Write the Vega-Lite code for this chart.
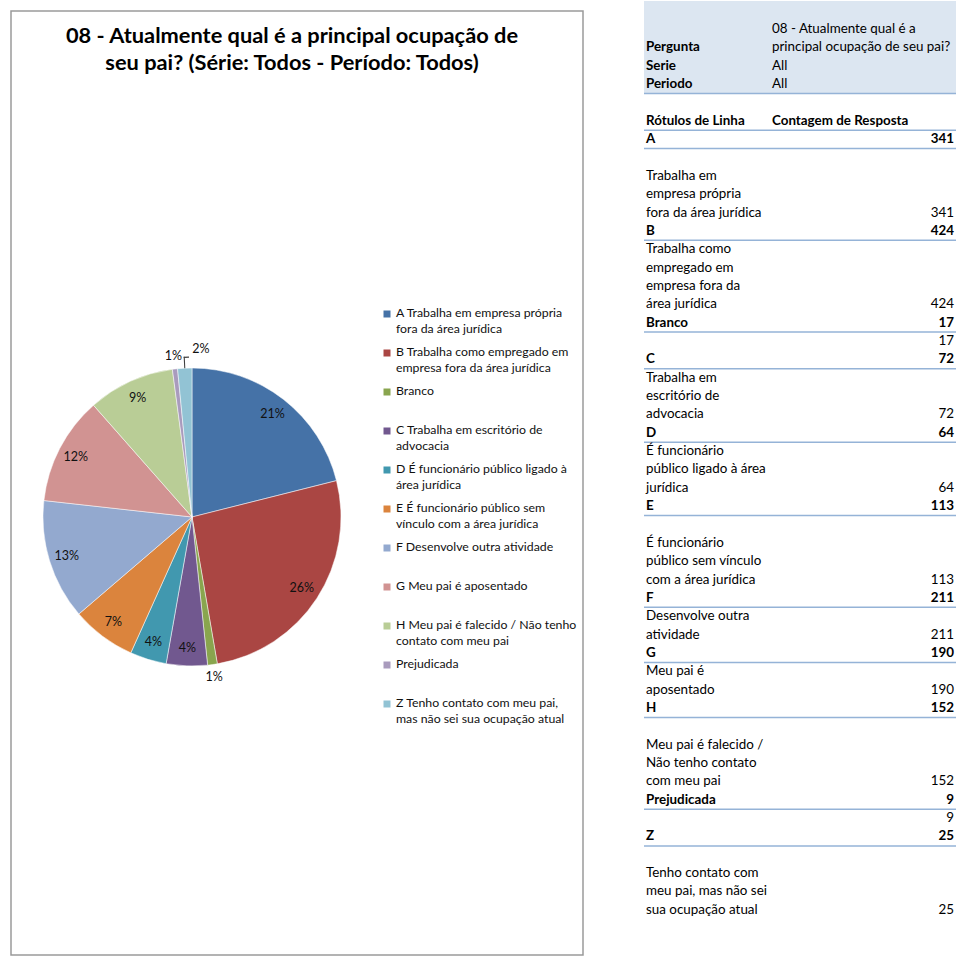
{
  "$schema": "https://vega.github.io/schema/vega-lite/v6.json",
  "padding": {"top": 0, "left": 10, "right": 0, "bottom": 0},
  "bounds": "flush",
  "spacing": 61,
  "config": {"font": "Lato", "view": {"stroke": null}},
  "datasets": {
    "occ": [
      {"cat": "A", "legend": "A Trabalha em empresa própria\nfora da área jurídica", "count": 341, "pct": "21%"},
      {"cat": "B", "legend": "B Trabalha como empregado em\nempresa fora da área jurídica", "count": 424, "pct": "26%"},
      {"cat": "Branco", "legend": "Branco", "count": 17, "pct": "1%"},
      {"cat": "C", "legend": "C Trabalha em escritório de\nadvocacia", "count": 72, "pct": "4%"},
      {"cat": "D", "legend": "D É funcionário público ligado à\nárea jurídica", "count": 64, "pct": "4%"},
      {"cat": "E", "legend": "E É funcionário público sem\nvínculo com a área jurídica", "count": 113, "pct": "7%"},
      {"cat": "F", "legend": "F Desenvolve outra atividade", "count": 211, "pct": "13%"},
      {"cat": "G", "legend": "G Meu pai é aposentado", "count": 190, "pct": "12%"},
      {"cat": "H", "legend": "H Meu pai é falecido / Não tenho\ncontato com meu pai", "count": 152, "pct": "9%"},
      {"cat": "Prejudicada", "legend": "Prejudicada", "count": 9, "pct": "1%"},
      {"cat": "Z", "legend": "Z Tenho contato com meu pai,\nmas não sei sua ocupação atual", "count": 25, "pct": "2%"}
    ],
    "tabela": [
      {"label": "", "mid": "08 - Atualmente qual é a", "count": "", "kind": "filtro"},
      {"label": "Pergunta", "mid": "principal ocupação de seu pai?", "count": "", "kind": "filtro"},
      {"label": "Serie", "mid": "All", "count": "", "kind": "filtro"},
      {"label": "Periodo", "mid": "All", "count": "", "kind": "filtro"},
      {"label": "", "mid": "", "count": "", "kind": "vazio"},
      {"label": "Rótulos de Linha", "mid": "Contagem de Resposta", "count": "", "kind": "cabecalho"},
      {"label": "A", "mid": "", "count": "341", "kind": "categoria"},
      {"label": "", "mid": "", "count": "", "kind": "vazio"},
      {"label": "Trabalha em", "mid": "", "count": "", "kind": "detalhe"},
      {"label": "empresa própria", "mid": "", "count": "", "kind": "detalhe"},
      {"label": "fora da área jurídica", "mid": "", "count": "341", "kind": "detalhe"},
      {"label": "B", "mid": "", "count": "424", "kind": "categoria"},
      {"label": "Trabalha como", "mid": "", "count": "", "kind": "detalhe"},
      {"label": "empregado em", "mid": "", "count": "", "kind": "detalhe"},
      {"label": "empresa fora da", "mid": "", "count": "", "kind": "detalhe"},
      {"label": "área jurídica", "mid": "", "count": "424", "kind": "detalhe"},
      {"label": "Branco", "mid": "", "count": "17", "kind": "categoria"},
      {"label": "", "mid": "", "count": "17", "kind": "detalhe"},
      {"label": "C", "mid": "", "count": "72", "kind": "categoria"},
      {"label": "Trabalha em", "mid": "", "count": "", "kind": "detalhe"},
      {"label": "escritório de", "mid": "", "count": "", "kind": "detalhe"},
      {"label": "advocacia", "mid": "", "count": "72", "kind": "detalhe"},
      {"label": "D", "mid": "", "count": "64", "kind": "categoria"},
      {"label": "É funcionário", "mid": "", "count": "", "kind": "detalhe"},
      {"label": "público ligado à área", "mid": "", "count": "", "kind": "detalhe"},
      {"label": "jurídica", "mid": "", "count": "64", "kind": "detalhe"},
      {"label": "E", "mid": "", "count": "113", "kind": "categoria"},
      {"label": "", "mid": "", "count": "", "kind": "vazio"},
      {"label": "É funcionário", "mid": "", "count": "", "kind": "detalhe"},
      {"label": "público sem vínculo", "mid": "", "count": "", "kind": "detalhe"},
      {"label": "com a área jurídica", "mid": "", "count": "113", "kind": "detalhe"},
      {"label": "F", "mid": "", "count": "211", "kind": "categoria"},
      {"label": "Desenvolve outra", "mid": "", "count": "", "kind": "detalhe"},
      {"label": "atividade", "mid": "", "count": "211", "kind": "detalhe"},
      {"label": "G", "mid": "", "count": "190", "kind": "categoria"},
      {"label": "Meu pai é", "mid": "", "count": "", "kind": "detalhe"},
      {"label": "aposentado", "mid": "", "count": "190", "kind": "detalhe"},
      {"label": "H", "mid": "", "count": "152", "kind": "categoria"},
      {"label": "", "mid": "", "count": "", "kind": "vazio"},
      {"label": "Meu pai é falecido /", "mid": "", "count": "", "kind": "detalhe"},
      {"label": "Não tenho contato", "mid": "", "count": "", "kind": "detalhe"},
      {"label": "com meu pai", "mid": "", "count": "152", "kind": "detalhe"},
      {"label": "Prejudicada", "mid": "", "count": "9", "kind": "categoria"},
      {"label": "", "mid": "", "count": "9", "kind": "detalhe"},
      {"label": "Z", "mid": "", "count": "25", "kind": "categoria"},
      {"label": "", "mid": "", "count": "", "kind": "vazio"},
      {"label": "Tenho contato com", "mid": "", "count": "", "kind": "detalhe"},
      {"label": "meu pai, mas não sei", "mid": "", "count": "", "kind": "detalhe"},
      {"label": "sua ocupação atual", "mid": "", "count": "25", "kind": "detalhe"}
    ]
  },
  "hconcat": [
    {
      "width": 572,
      "height": 944,
      "view": {"stroke": "#9a9a9a", "strokeWidth": 1.5},
      "title": {
        "text": ["08 - Atualmente qual é a principal ocupação de", "seu pai? (Série: Todos - Período: Todos)"],
        "fontSize": 21.8, "fontWeight": "bold", "anchor": "middle", "offset": -86, "dx": -5,
        "lineHeight": 27, "color": "#000", "baseline": "bottom"
      },
      "data": {"name": "occ"},
      "layer": [
        {
          "mark": {"type": "arc", "x": 181, "y": 506, "outerRadius": 149, "stroke": "#ffffff", "strokeWidth": 0.5},
          "encoding": {
            "theta": {"field": "count", "type": "quantitative", "stack": true},
            "order": {"field": "cat", "type": "ordinal", "sort": "ascending"},
            "color": {
              "field": "cat", "type": "nominal",
              "scale": {
                "domain": ["A", "B", "Branco", "C", "D", "E", "F", "G", "H", "Prejudicada", "Z"],
                "range": ["#4572A7", "#AA4643", "#89A54E", "#71588F", "#4198AF", "#DB843D", "#93A9CF", "#D19392", "#B9CD96", "#A99BBD", "#92C3D4"]
              },
              "legend": null
            }
          }
        },
        {
          "data": {"values": [{"guia": "Z"}]},
          "mark": {"type": "arc", "x": 181, "y": 506, "innerRadius": 149, "outerRadius": 160.5, "color": "#404040"},
          "encoding": {
            "theta": {"datum": 1604.6, "type": "quantitative"},
            "theta2": {"datum": 1606.4}
          }
        },
        {
          "data": {"values": [{"guia": "Z"}]},
          "mark": {"type": "arc", "x": 181, "y": 506, "innerRadius": 159.2, "outerRadius": 160.5, "color": "#404040"},
          "encoding": {
            "theta": {"datum": 1604.6, "type": "quantitative"},
            "theta2": {"datum": 1613.2}
          }
        },
        {
          "mark": {"type": "text", "x": 181, "y": 506, "radius": 131, "fontSize": 12.5, "fill": "#111"},
          "encoding": {
            "theta": {"field": "count", "type": "quantitative", "stack": true},
            "order": {"field": "cat", "type": "ordinal", "sort": "ascending"},
            "detail": {"field": "cat", "type": "nominal"},
            "text": {"condition": {"test": "indexof(['Branco','Prejudicada','Z'], datum.cat) < 0", "field": "pct"}, "value": ""}
          }
        },
        {
          "mark": {"type": "text", "x": 181, "y": 506, "radius": 162, "fontSize": 12.5, "fill": "#111"},
          "encoding": {
            "theta": {"field": "count", "type": "quantitative", "stack": true},
            "order": {"field": "cat", "type": "ordinal", "sort": "ascending"},
            "detail": {"field": "cat", "type": "nominal"},
            "text": {"condition": {"test": "datum.cat === 'Branco' || datum.cat === 'Prejudicada'", "field": "pct"}, "value": ""}
          }
        },
        {
          "mark": {"type": "text", "x": 181, "y": 506, "radius": 168, "dx": 17, "fontSize": 12.5, "fill": "#111"},
          "encoding": {
            "theta": {"field": "count", "type": "quantitative", "stack": true},
            "order": {"field": "cat", "type": "ordinal", "sort": "ascending"},
            "detail": {"field": "cat", "type": "nominal"},
            "text": {"condition": {"test": "datum.cat === 'Z'", "field": "pct"}, "value": ""}
          }
        },
        {
          "mark": {"type": "square", "size": 49, "filled": true, "opacity": 1},
          "encoding": {
            "y": {"field": "cat", "type": "nominal", "scale": {"type": "point", "range": [303, 693], "padding": 0}, "axis": null},
            "x": {"datum": 0, "type": "quantitative", "scale": {"domain": [0, 1], "range": [376, 385]}, "axis": null},
            "color": {"field": "cat", "type": "nominal", "legend": null}
          }
        },
        {
          "mark": {"type": "text", "align": "left", "baseline": "top", "dy": -7, "lineBreak": "\n", "lineHeight": 16, "fontSize": 12.3, "fill": "#111"},
          "encoding": {
            "y": {"field": "cat", "type": "nominal", "axis": null},
            "x": {"datum": 1, "type": "quantitative", "axis": null},
            "text": {"field": "legend"}
          }
        }
      ]
    },
    {
      "width": 312,
      "height": 944,
      "data": {"name": "tabela"},
      "transform": [{"window": [{"op": "row_number", "as": "line"}]}],
      "layer": [
        {
          "data": {"values": [{"faixa": "filtro"}]},
          "mark": {"type": "rect", "color": "#DCE6F1"},
          "encoding": {
            "y": {"datum": -0.526, "type": "quantitative", "scale": {"domain": [1, 49], "range": [18, 898.8], "zero": false, "nice": false}, "axis": null},
            "y2": {"datum": 4.52}
          }
        },
        {
          "data": {"values": [{"faixa": "filtro"}]},
          "mark": {"type": "rule", "color": "#95B3D7", "strokeWidth": 1.5},
          "encoding": {"y": {"datum": 4.52, "type": "quantitative"}}
        },
        {
          "transform": [{"filter": "datum.kind === 'categoria' || datum.kind === 'cabecalho'"}],
          "mark": {"type": "rule", "color": "#95B3D7", "strokeWidth": 1.5, "yOffset": 9.5},
          "encoding": {"y": {"field": "line", "type": "quantitative"}}
        },
        {
          "transform": [{"filter": "datum.kind !== 'detalhe'"}],
          "mark": {"type": "text", "align": "left", "baseline": "middle", "fontSize": 13.4, "fontWeight": "bold", "fill": "#000"},
          "encoding": {
            "y": {"field": "line", "type": "quantitative"},
            "x": {"datum": 0, "type": "quantitative", "scale": {"domain": [0, 1], "range": [2, 310]}, "axis": null},
            "text": {"field": "label"}
          }
        },
        {
          "transform": [{"filter": "datum.kind === 'detalhe'"}],
          "mark": {"type": "text", "align": "left", "baseline": "middle", "fontSize": 13.4, "fill": "#000"},
          "encoding": {
            "y": {"field": "line", "type": "quantitative"},
            "x": {"datum": 0, "type": "quantitative"},
            "text": {"field": "label"}
          }
        },
        {
          "transform": [{"filter": "datum.kind === 'cabecalho'"}],
          "mark": {"type": "text", "align": "left", "baseline": "middle", "fontSize": 13.4, "fontWeight": "bold", "fill": "#000"},
          "encoding": {
            "y": {"field": "line", "type": "quantitative"},
            "x": {"datum": 0.409, "type": "quantitative"},
            "text": {"field": "mid"}
          }
        },
        {
          "transform": [{"filter": "datum.kind === 'filtro'"}],
          "mark": {"type": "text", "align": "left", "baseline": "middle", "fontSize": 13.4, "fill": "#000"},
          "encoding": {
            "y": {"field": "line", "type": "quantitative"},
            "x": {"datum": 0.409, "type": "quantitative"},
            "text": {"field": "mid"}
          }
        },
        {
          "transform": [{"filter": "datum.kind === 'categoria'"}],
          "mark": {"type": "text", "align": "right", "baseline": "middle", "fontSize": 13.4, "fontWeight": "bold", "fill": "#000"},
          "encoding": {
            "y": {"field": "line", "type": "quantitative"},
            "x": {"datum": 1, "type": "quantitative"},
            "text": {"field": "count"}
          }
        },
        {
          "transform": [{"filter": "datum.kind === 'detalhe'"}],
          "mark": {"type": "text", "align": "right", "baseline": "middle", "fontSize": 13.4, "fill": "#000"},
          "encoding": {
            "y": {"field": "line", "type": "quantitative"},
            "x": {"datum": 1, "type": "quantitative"},
            "text": {"field": "count"}
          }
        }
      ]
    }
  ]
}
